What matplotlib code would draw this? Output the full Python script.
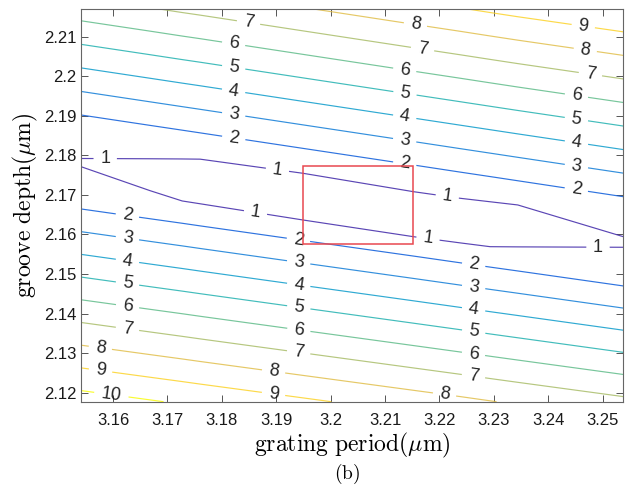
import numpy as np
import matplotlib
matplotlib.use("Agg")
import matplotlib.pyplot as plt
from matplotlib.colors import LinearSegmentedColormap, Normalize
from matplotlib.patches import Rectangle

# ---------------- data ----------------
# sample columns: grating period (um)
period = [3.1541, 3.1668, 3.1727, 3.1760, 3.1949, 3.2152, 3.2238, 3.2293, 3.2344, 3.2538]

# sample rows (groove depth, um) at each column, bottom -> top
depth_bottom = [2.1177, 2.1177, 2.1177, 2.1177, 2.1177, 2.1177, 2.1177, 2.1177, 2.1177, 2.1177]
depth_lower2 = [2.16644, 2.16396, 2.16282, 2.16216, 2.15847, 2.15453, 2.15283, 2.15174, 2.15076, 2.14697]
depth_lower1 = [2.17713, 2.17106, 2.16846, 2.16775, 2.16365, 2.15943, 2.15786, 2.15690, 2.15685, 2.15675]
depth_valley = [2.17817, 2.17510, 2.17377, 2.17339, 2.16956, 2.16512, 2.16350, 2.16258, 2.16215, 2.15809]
depth_upper1 = [2.17920, 2.17913, 2.17908, 2.17903, 2.17546, 2.17081, 2.16914, 2.16826, 2.16745, 2.15943]
depth_upper2 = [2.19020, 2.18757, 2.18636, 2.18568, 2.18176, 2.17756, 2.17576, 2.17463, 2.17357, 2.16954]
depth_top = [2.2170, 2.2170, 2.2170, 2.2170, 2.2170, 2.2170, 2.2170, 2.2170, 2.2170, 2.2170]

# field values on those rows
value_bottom = [10.49, 10.08, 9.89, 9.78, 9.17, 8.51, 8.23, 8.04, 7.87, 7.23]
value_lower2 = [2, 2, 2, 2, 2, 2, 2, 2, 2, 2]
value_lower1 = [1, 1, 1, 1, 1, 1, 1, 1, 1, 1]
value_valley = [0.9, 0.5, 0.3, 0.2, 0.0, 0.0, 0.2, 0.3, 0.5, 0.9]
value_upper1 = [1, 1, 1, 1, 1, 1, 1, 1, 1, 1]
value_upper2 = [2, 2, 2, 2, 2, 2, 2, 2, 2, 2]
value_top = [6.50, 6.94, 7.15, 7.26, 7.93, 8.65, 8.95, 9.15, 9.33, 9.97]

levels = [1, 2, 3, 4, 5, 6, 7, 8, 9, 10]

# contour label positions (period, depth)
label_x = [3.18483, 3.18207, 3.18207, 3.18207, 3.18207, 3.18207,
           3.15855, 3.19016, 3.18611,
           3.16259, 3.16259, 3.16259, 3.16259, 3.16259, 3.16259, 3.15763, 3.15763, 3.15965,
           3.19402, 3.19402, 3.19402, 3.19402, 3.19402, 3.19402, 3.18942, 3.18942,
           3.21552, 3.21681, 3.21350, 3.21350, 3.21350, 3.21350, 3.21350, 3.22140, 3.21791,
           3.24639, 3.24676, 3.24768, 3.24510, 3.24510, 3.24510, 3.24510, 3.24510, 3.24915,
           3.22618, 3.22618, 3.22618, 3.22618, 3.22618, 3.22618, 3.22085]
label_y = [2.21296, 2.20740, 2.20133, 2.19551, 2.18944, 2.18338,
           2.17882, 2.17578, 2.16491,
           2.16441, 2.15860, 2.15278, 2.14696, 2.14114, 2.13559, 2.13104, 2.12497, 2.11915,
           2.15809, 2.15202, 2.14620, 2.14038, 2.13458, 2.12927, 2.12446, 2.11890,
           2.21245, 2.20613, 2.20057, 2.19425, 2.18869, 2.18287, 2.17680, 2.16921, 2.15910,
           2.21220, 2.20613, 2.19981, 2.19425, 2.18843, 2.18236, 2.17654, 2.17073, 2.15683,
           2.15126, 2.14569, 2.14013, 2.13432, 2.12901, 2.12345, 2.11865]

# highlighted cell
box_x = [3.1949, 3.2151]
box_y = [2.1576, 2.1774]

x_range = [3.1541, 3.2538]
y_range = [2.1177, 2.2170]
x_ticks = [3.16, 3.17, 3.18, 3.19, 3.20, 3.21, 3.22, 3.23, 3.24, 3.25]
y_ticks = [2.12, 2.13, 2.14, 2.15, 2.16, 2.17, 2.18, 2.19, 2.20, 2.21]

# ---------------- plotting ----------------
parula = LinearSegmentedColormap.from_list("parula", [
    (0.2422, 0.1504, 0.6603), (0.0117, 0.3875, 0.8820), (0.0793, 0.5200, 0.8312),
    (0.0228, 0.6535, 0.7768), (0.2178, 0.7250, 0.6193), (0.5709, 0.7485, 0.4494),
    (0.8507, 0.7299, 0.3360), (0.9880, 0.8066, 0.1794), (0.9763, 0.9831, 0.0538)])

plt.rcParams["mathtext.fontset"] = "cm"

X = np.array([period] * 7)
Y = np.array([depth_bottom, depth_lower2, depth_lower1, depth_valley,
              depth_upper1, depth_upper2, depth_top])
Z = np.array([value_bottom, value_lower2, value_lower1, value_valley,
              value_upper1, value_upper2, value_top], dtype=float)

fig = plt.figure(figsize=(6.29, 4.87), dpi=100)
ax = fig.add_axes([81 / 629, 1 - 401.7 / 487, (623.3 - 81) / 629, (401.7 - 9) / 487])
ax.set_xlim(x_range)
ax.set_ylim(y_range)

cs = ax.contour(X, Y, Z, levels=levels, cmap=parula, norm=Normalize(1, 10),
                linewidths=0.85, alpha=0.85)
ax.clabel(cs, fmt="%d", inline=True, inline_spacing=6, colors="k",
          fontsize=13, manual=list(zip(label_x, label_y)))
for t in cs.labelTexts:
    t.set_fontfamily("Liberation Sans")

ax.add_patch(Rectangle((box_x[0], box_y[0]), box_x[1] - box_x[0], box_y[1] - box_y[0],
                       fill=False, edgecolor="#e8484f", linewidth=1.1, zorder=5))

ax.set_xticks(x_ticks)
ax.set_yticks(y_ticks)
ax.set_xticklabels(["%g" % v for v in x_ticks])
ax.set_yticklabels(["%g" % v for v in y_ticks])
ax.tick_params(direction="in", top=True, right=True, length=5, width=0.7,
               color="#555555", labelsize=12, labelcolor="#1a1a1a")
ax.tick_params(axis="y", pad=3)
ax.tick_params(axis="x", pad=8)
for lab in ax.get_xticklabels() + ax.get_yticklabels():
    lab.set_fontfamily("Liberation Sans")
for s in ax.spines.values():
    s.set_color("#666666")
    s.set_linewidth(0.8)

ax.set_xlabel(r"$\mathrm{grating\ period}(\mu\mathrm{m})$", fontsize=17, labelpad=2)
ax.set_ylabel(r"$\mathrm{groove\ depth}(\mu\mathrm{m})$", fontsize=17, labelpad=3)
fig.text(347 / 629, 1 - 474 / 487, r"$\mathrm{(b)}$", fontsize=14, ha="center", va="center")

fig.savefig("out.png", dpi=100)
